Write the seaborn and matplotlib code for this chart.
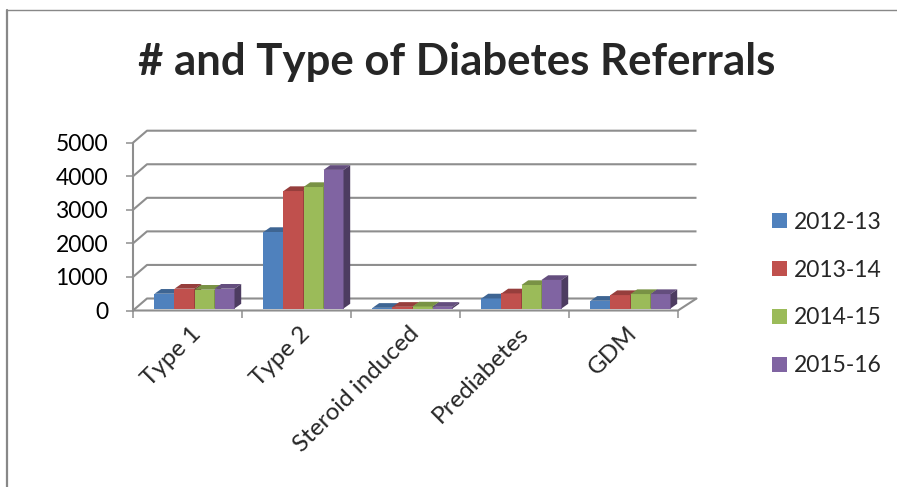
import matplotlib
matplotlib.use("Agg")
import matplotlib.pyplot as plt
import matplotlib.colors as mcolors
from matplotlib.patches import Polygon, Patch
from matplotlib.lines import Line2D
from matplotlib.transforms import offset_copy, Affine2D
import numpy as np
import pandas as pd
import seaborn as sns

# Referral counts per diabetes type, one list per financial year
categories = ["Type 1", "Type 2", "Steroid induced", "Prediabetes", "GDM"]
years = ["2012-13", "2013-14", "2014-15", "2015-16"]
referrals_2012_13 = [440, 2280, 20, 300, 230]
referrals_2013_14 = [590, 3500, 50, 450, 400]
referrals_2014_15 = [560, 3620, 60, 700, 430]
referrals_2015_16 = [590, 4130, 50, 850, 430]
y_ticks = [0, 1000, 2000, 3000, 4000, 5000]
year_colors = ["#4F81BD", "#C0504D", "#9BBB59", "#8064A2"]

series = [referrals_2012_13, referrals_2013_14, referrals_2014_15, referrals_2015_16]
df = pd.DataFrame({
    "category": np.repeat([categories], len(years), axis=0).ravel(),
    "year": np.repeat(years, len(categories)),
    "referrals": np.concatenate(series),
})

sns.set_theme(style="white")
plt.rcParams["font.family"] = ["Lato", "DejaVu Sans"]

W, H = 897, 487
fig = plt.figure(figsize=(W / 100, H / 100), dpi=100)
fig.patch.set_facecolor("white")

# front face of the plot box, in pixels from the top-left corner
left_px, right_px, top_px, bottom_px = 133, 678, 142.7, 310.5
ax = fig.add_axes([left_px / W, (H - bottom_px) / H,
                   (right_px - left_px) / W, (bottom_px - top_px) / H])
ax.patch.set_alpha(0)

sns.barplot(data=df, x="category", y="referrals", hue="year",
            order=categories, hue_order=years, palette=year_colors,
            width=0.734, gap=0, saturation=1, linewidth=0,
            errorbar=None, legend=False, ax=ax)

ax.set_xlim(-0.5, len(categories) - 0.5)
ax.set_ylim(0, 5000)
ax.set_xlabel("")
ax.set_ylabel("")
for s in ax.spines.values():
    s.set_visible(False)

grid_c = "#8E8E8E"
grid_lw = 1.5
fig.canvas.draw()

# depth offsets (pixels, y up) of the back wall, left and right
back_dx_l, back_dx_r, back_dy = 14, 18.5, 12

def disp(x, y):
    return ax.transData.transform((x, y))

def to_data(pts):
    return ax.transData.inverted().transform(np.asarray(pts))

x0, x1 = -0.5, len(categories) - 0.5
for v in y_ticks:
    fl = disp(x0, v)
    bl = fl + (back_dx_l, back_dy)
    br = disp(x1, v) + (back_dx_r, back_dy)
    pts = to_data([fl, bl, br])
    ax.add_line(Line2D(pts[:, 0], pts[:, 1], color=grid_c, lw=grid_lw,
                       clip_on=False, zorder=1, solid_capstyle="butt"))

# floor front edge and right edge, plus the front vertical axis
fr = disp(x1, 0)
pts = to_data([disp(x0, 0), fr, fr + (back_dx_r, back_dy)])
ax.add_line(Line2D(pts[:, 0], pts[:, 1], color=grid_c, lw=grid_lw,
                   clip_on=False, zorder=1))
ax.add_line(Line2D([x0, x0], [0, 5000], color=grid_c, lw=grid_lw,
                   clip_on=False, zorder=1))

# y ticks on the front axis
ax.set_yticks(y_ticks)
ax.set_yticklabels([str(t) for t in y_ticks], fontsize=16.5, color="black")
ax.tick_params(axis="y", length=5, width=1.1, color=grid_c, pad=13, left=True)

# category boundaries as ticks, names rotated below
ax.set_xticks(np.arange(-0.5, len(categories), 1.0))
ax.set_xticklabels([])
ax.tick_params(axis="x", length=5, width=1.1, color=grid_c, bottom=True)
ax.set_xticks(np.arange(len(categories)), minor=True)
ax.set_xticklabels(categories, minor=True, rotation=45, ha="right",
                   rotation_mode="anchor", fontsize=17.5)
ax.tick_params(axis="x", which="minor", length=0, pad=9)
for lbl in ax.get_xticklabels(minor=True):
    lbl.set_transform(lbl.get_transform() + Affine2D().translate(3, 0))

# give each bar a depth: darker top cap and right side
bar_dx, bar_dy = 7, 2
cap_dx, cap_dy = 6.7, 4.7
bars = sorted(ax.patches, key=lambda p: p.get_x())
for i, p in enumerate(bars):
    tr = offset_copy(ax.transData, fig=fig, x=bar_dx, y=bar_dy, units="dots")
    p.set_transform(tr)
    z = 3 + i
    p.set_zorder(z)
    p.set_clip_on(False)
    base = np.array(mcolors.to_rgb(p.get_facecolor()))
    xl, xr = p.get_x(), p.get_x() + p.get_width()
    h = p.get_height()
    (dl, db), (dr, dt) = tr.transform([(xl, 0), (xr, h)])
    cap = to_data([(dl, dt), (dr, dt), (dr + cap_dx, dt + cap_dy), (dl + cap_dx, dt + cap_dy)])
    side = to_data([(dr, db), (dr, dt), (dr + cap_dx, dt + cap_dy), (dr + cap_dx, db + cap_dy)])
    ax.add_patch(Polygon(cap, closed=True, facecolor=base * 0.78, edgecolor="none",
                         zorder=z, clip_on=False))
    ax.add_patch(Polygon(side, closed=True, facecolor=base * 0.6, edgecolor="none",
                         zorder=z, clip_on=False))

# legend on the right
handles = [Patch(facecolor=c, edgecolor="none") for c in year_colors]
fig.legend(handles, years, loc="center left",
           bbox_to_anchor=(771.7 / W, 1 - 294 / H), frameon=False,
           fontsize=16.5, handlelength=0.65, handleheight=0.65,
           handletextpad=0.3, labelspacing=1.17, borderpad=0, borderaxespad=0)

fig.text(457 / W, 1 - 62 / H, "# and Type of Diabetes Referrals",
         ha="center", va="center", fontsize=31.5, fontweight="bold")

# outer chart border (left and top edges)
fig.add_artist(Line2D([7 / W, 7 / W], [0, 1 - 10 / H], transform=fig.transFigure,
                      color="#888888", lw=1.6))
fig.add_artist(Line2D([7 / W, 1], [1 - 10 / H, 1 - 10 / H], transform=fig.transFigure,
                      color="#888888", lw=1.0))

fig.savefig("out.png", dpi=100, facecolor="white")
